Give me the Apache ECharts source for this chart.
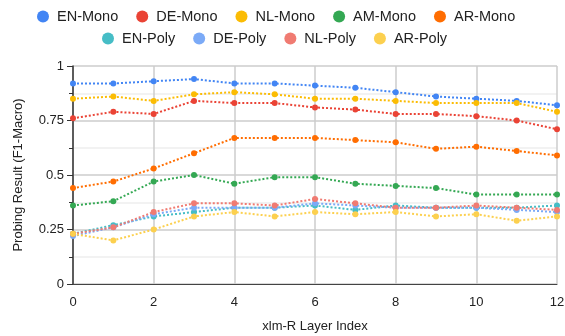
<!DOCTYPE html>
<html><head><meta charset="utf-8">
<script src="https://cdn.jsdelivr.net/npm/echarts@6/dist/echarts.min.js"></script>
<style>html,body{margin:0;padding:0;background:#fff}#c{width:565px;height:336px}</style>
</head><body><div id="c"></div>
<script>
const layers = [0,1,2,3,4,5,6,7,8,9,10,11,12];
const seriesNames = ['EN-Mono','DE-Mono','NL-Mono','AM-Mono','AR-Mono','EN-Poly','DE-Poly','NL-Poly','AR-Poly'];
const colors = ['#4285F4','#EA4335','#FBBC04','#34A853','#FF6D01','#46BDC6','#7BAAF7','#F07B72','#FCD04F'];
const enMono = [0.92,0.92,0.93,0.94,0.92,0.92,0.91,0.90,0.88,0.86,0.85,0.84,0.82];
const deMono = [0.76,0.79,0.78,0.84,0.83,0.83,0.81,0.80,0.78,0.78,0.77,0.75,0.71];
const nlMono = [0.85,0.86,0.84,0.87,0.88,0.87,0.85,0.85,0.84,0.83,0.83,0.83,0.79];
const amMono = [0.36,0.38,0.47,0.50,0.46,0.49,0.49,0.46,0.45,0.44,0.41,0.41,0.41];
const arMono = [0.44,0.47,0.53,0.60,0.67,0.67,0.67,0.66,0.65,0.62,0.63,0.61,0.59];
const enPoly = [0.23,0.27,0.31,0.33,0.35,0.35,0.36,0.34,0.36,0.35,0.35,0.35,0.36];
const dePoly = [0.22,0.26,0.32,0.35,0.35,0.35,0.37,0.36,0.35,0.35,0.35,0.34,0.33];
const nlPoly = [0.23,0.26,0.33,0.37,0.37,0.36,0.39,0.37,0.35,0.35,0.36,0.35,0.34];
const arPoly = [0.23,0.20,0.25,0.31,0.33,0.31,0.33,0.32,0.33,0.31,0.32,0.29,0.31];
const allData = [enMono,deMono,nlMono,amMono,arMono,enPoly,dePoly,nlPoly,arPoly];
const xTicks = {min:0,max:12,interval:2};
const yTicks = {min:0,max:1,interval:0.25};

const chart = echarts.init(document.getElementById('c'));
const font = 'Liberation Sans, Arial, sans-serif';
const legendBase = {
  orient:'horizontal', icon:'circle', itemWidth:18, itemHeight:12, itemGap:18,
  textStyle:{fontFamily:font,fontSize:14.5,color:'#222'}
};
chart.setOption({
  animation:false,
  color: colors,
  legend:[
    Object.assign({}, legendBase, {top:4, left:32, data: seriesNames.slice(0,5)}),
    Object.assign({}, legendBase, {top:26, left:97, data: seriesNames.slice(5)})
  ],
  grid:{left:73,right:8,top:66,bottom:52,outerBoundsMode:'none',containLabel:false},
  xAxis:{
    type:'value', min:xTicks.min, max:xTicks.max, interval:xTicks.interval,
    name:'xlm-R Layer Index', nameLocation:'middle', nameGap:36,
    nameTextStyle:{fontFamily:font,fontSize:13,color:'#222'},
    axisLine:{show:true,lineStyle:{color:'#444',width:1}},
    axisTick:{show:false},
    axisLabel:{fontFamily:font,fontSize:13,color:'#222',margin:12},
    splitLine:{show:true,lineStyle:{color:'#ccc',width:1.5}}
  },
  yAxis:{
    type:'value', min:yTicks.min, max:yTicks.max, interval:yTicks.interval,
    name:'Probing Result (F1-Macro)', nameLocation:'middle', nameGap:48,
    nameTextStyle:{fontFamily:font,fontSize:13,color:'#222'},
    axisLine:{show:true,lineStyle:{color:'#333',width:1.5}},
    axisTick:{show:true,length:6,lineStyle:{color:'#333'}},
    minorTick:{show:true,splitNumber:2,length:4,lineStyle:{color:'#333'}},
    axisLabel:{fontFamily:font,fontSize:13,color:'#222',margin:9,
      formatter:v=>String(+v.toFixed(2))},
    splitLine:{show:true,lineStyle:{color:'#ccc',width:1.5}},
    minorSplitLine:{show:true,lineStyle:{color:'#eee',width:1.5}}
  },
  series: seriesNames.map((n,i)=>({
    name:n, type:'line',
    data: layers.map((x,j)=>[x,allData[i][j]]),
    symbol:'circle', symbolSize:6,
    lineStyle:{type:'dotted',width:2},
    itemStyle:{color:colors[i]}
  }))
});
</script></body></html>
